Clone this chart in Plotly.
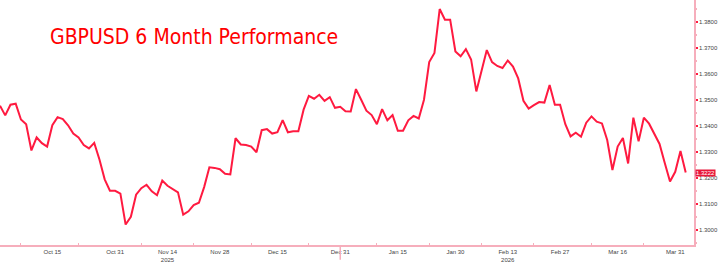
import pandas as pd
import plotly.graph_objects as go

# ---- data ----
start_date = "2025-10-01"
end_date = "2026-04-02"
dates = pd.bdate_range(start_date, end_date)

gbpusd = [
    1.3479, 1.3442, 1.3483, 1.3487, 1.3426, 1.3408, 1.3307, 1.3357, 1.3335, 1.3322,
    1.3404, 1.3435, 1.3428, 1.3404, 1.3372, 1.3357, 1.3328, 1.3315, 1.3336, 1.3272,
    1.3196, 1.3152, 1.3152, 1.3141, 1.3022, 1.3052, 1.3137, 1.3162, 1.3175, 1.3150,
    1.3135, 1.3191, 1.3171, 1.3159, 1.3146, 1.3060, 1.3073, 1.3097, 1.3106, 1.3166,
    1.3242, 1.3240, 1.3235, 1.3217, 1.3215, 1.3354, 1.3330, 1.3328, 1.3322, 1.3300,
    1.3385, 1.3389, 1.3372, 1.3377, 1.3424, 1.3377, 1.3381, 1.3381, 1.3464, 1.3517,
    1.3506, 1.3521, 1.3498, 1.3512, 1.3471, 1.3475, 1.3458, 1.3457, 1.3543, 1.3502,
    1.3460, 1.3443, 1.3408, 1.3466, 1.3423, 1.3443, 1.3383, 1.3383, 1.3423, 1.3440,
    1.3430, 1.3502, 1.3647, 1.3682, 1.3851, 1.3810, 1.3810, 1.3688, 1.3669, 1.3697,
    1.3657, 1.3534, 1.3615, 1.3693, 1.3647, 1.3632, 1.3624, 1.3653, 1.3630, 1.3584,
    1.3498, 1.3468, 1.3481, 1.3493, 1.3491, 1.3559, 1.3483, 1.3483, 1.3408, 1.3361,
    1.3375, 1.3360, 1.3414, 1.3438, 1.3418, 1.3411, 1.3347, 1.3232, 1.3322, 1.3355,
    1.3257, 1.3433, 1.3342, 1.3433, 1.3410, 1.3368, 1.3332, 1.3259, 1.3188, 1.3225,
    1.3305, 1.3222,
]

tick_dates = ["2025-10-15", "2025-10-31", "2025-11-14", "2025-11-28", "2025-12-15",
              "2025-12-31", "2026-01-15", "2026-01-30", "2026-02-13", "2026-02-27",
              "2026-03-16", "2026-03-31"]
tick_labels = ["Oct 15", "Oct 31", "Nov 14<br>2025", "Nov 28", "Dec 15", "Dec 31",
               "Jan 15", "Jan 30", "Feb 13<br>2026", "Feb 27", "Mar 16", "Mar 31"]
minor_tick_dates = ["2025-10-07", "2025-10-22", "2025-11-07", "2025-11-21", "2025-12-08",
                    "2025-12-23", "2026-01-09", "2026-01-23", "2026-02-06", "2026-02-20",
                    "2026-03-09", "2026-03-23"]
year_break = "2025-12-31"
title_text = "GBPUSD 6 Month Performance"

LINE = "#FF1A40"
AXIS = "#F6AEBC"

fig = go.Figure()
fig.add_trace(go.Scatter(x=dates, y=gbpusd, mode="lines",
                         line=dict(color=LINE, width=2), hoverinfo="skip"))

fig.update_layout(
    width=718, height=263,
    margin=dict(l=0, r=19, t=0, b=13),
    paper_bgcolor="white", plot_bgcolor="white",
    showlegend=False,
    font=dict(family="Liberation Sans, Arial, sans-serif", size=6, color="#444444"),
)
fig.update_xaxes(
    type="date",
    rangebreaks=[dict(bounds=["sat", "mon"])],
    range=["2025-10-01", "2026-04-03 14:00"],
    tickmode="array", tickvals=tick_dates, ticktext=tick_labels,
    ticks="", showgrid=False, zeroline=False,
    showline=True, linecolor=AXIS, linewidth=1.5,
    tickfont=dict(size=6, color="#444444"),
    minor=dict(tickmode="array", tickvals=minor_tick_dates, ticks="inside",
               ticklen=2, tickcolor=AXIS, tickwidth=1),
)
fig.update_yaxes(
    side="right",
    range=[1.29434, 1.38857],
    tick0=1.30, dtick=0.01, tickformat=".4f",
    ticks="outside", ticklen=2, tickwidth=2, tickcolor=LINE,
    showgrid=False, zeroline=False,
    showline=True, linecolor=AXIS, linewidth=1.5,
    tickfont=dict(size=6, color="#444444"),
    minor=dict(dtick=0.005, ticks="outside", ticklen=1, tickcolor=AXIS),
)

fig.add_shape(type="line", xref="x", yref="paper", x0=year_break, x1=year_break,
              y0=0, y1=-0.06, line=dict(color=AXIS, width=1.5))

fig.add_annotation(xref="paper", yref="paper", x=48 / 699, y=0.848,
                   xanchor="left", yanchor="middle", showarrow=False,
                   text=title_text,
                   font=dict(family="DejaVu Sans Condensed, Roboto, sans-serif",
                             size=21, color="#FF0000"))

fig.add_annotation(xref="paper", yref="y", x=1, y=gbpusd[-1],
                   xanchor="left", yanchor="middle", showarrow=False,
                   text=f"{gbpusd[-1]:.4f}", bgcolor="#E8173A", borderpad=0,
                   xshift=1,
                   font=dict(size=6, color="white"))

fig.write_html("out.html")
